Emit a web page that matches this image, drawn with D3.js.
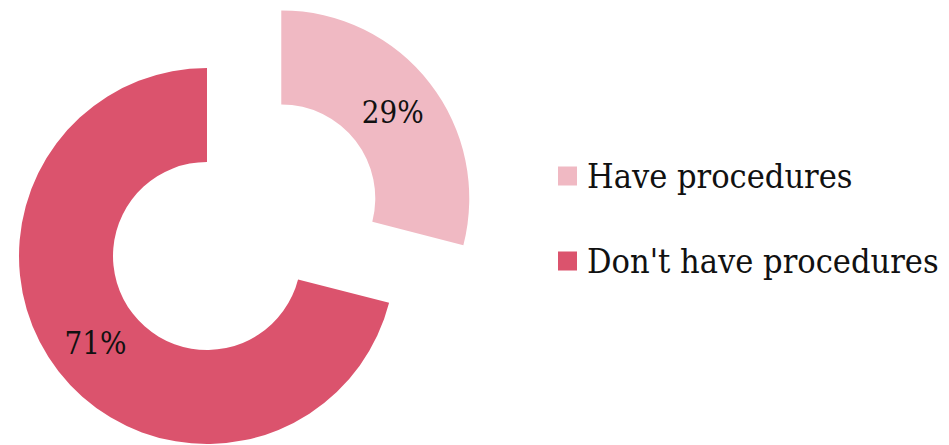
<!DOCTYPE html>
<html>
<head>
<meta charset="utf-8">
<script src="https://cdn.jsdelivr.net/npm/d3@7/dist/d3.min.js"></script>
<style>
  html, body { margin: 0; padding: 0; background: #fff; }
  text { font-family: Georgia, "DejaVu Serif", "Liberation Serif", serif; font-stretch: condensed; fill: #111; }
</style>
</head>
<body>
<svg id="chart" width="949" height="445"></svg>
<script>
// Share of organisations with / without procedures
const categories = ["Have procedures", "Don't have procedures"];
const values = [29, 71];
const labels = ["29%", "71%"];
const colors = ["#F0B9C3", "#DB536D"];

const svg = d3.select("#chart");
const cx = 207, cy = 256;
const outerR = 188, innerR = 94;
const explode = 94; // offset of the first slice away from the centre

const pie = d3.pie().sort(null).value(d => d)(values);
const arc = d3.arc().innerRadius(innerR).outerRadius(outerR);
const labelArc = d3.arc().innerRadius((innerR + outerR) / 2).outerRadius((innerR + outerR) / 2);

const g = svg.append("g").attr("transform", `translate(${cx},${cy})`);

const slices = g.selectAll("g.slice").data(pie).join("g")
  .attr("class", "slice")
  .attr("transform", (d, i) => {
    if (i !== 0) return null;
    const a = (d.startAngle + d.endAngle) / 2;
    return `translate(${Math.sin(a) * explode},${-Math.cos(a) * explode})`;
  });

slices.append("path")
  .attr("d", arc)
  .attr("fill", (d, i) => colors[i]);

const pct = slices.append("text")
  .attr("transform", d => `translate(${labelArc.centroid(d)})`)
  .attr("text-anchor", "middle")
  .attr("dy", "0.36em")
  .attr("font-size", 30)
  .text((d, i) => labels[i]);

// Legend
const legend = svg.append("g").attr("transform", "translate(558,0)");
const rowY = [176, 261];
const legendText = [];
categories.forEach((c, i) => {
  const row = legend.append("g").attr("transform", `translate(0,${rowY[i]})`);
  row.append("rect").attr("x", 0).attr("y", -9.5).attr("width", 19).attr("height", 19).attr("fill", colors[i]);
  legendText.push(row.append("text").attr("x", 29).attr("dy", "0.36em").attr("font-size", 30).text(c));
});

// Size the legend type so the longest entry spans the available width
const longest = legendText[1].node().getComputedTextLength();
const legendSize = Math.min(34, 30 * 353 / longest);
legendText.forEach(t => t.attr("font-size", legendSize));
const pw = pct.nodes()[0].getComputedTextLength();
pct.attr("font-size", Math.min(31, 30 * 65 / pw));
</script>
</body>
</html>
